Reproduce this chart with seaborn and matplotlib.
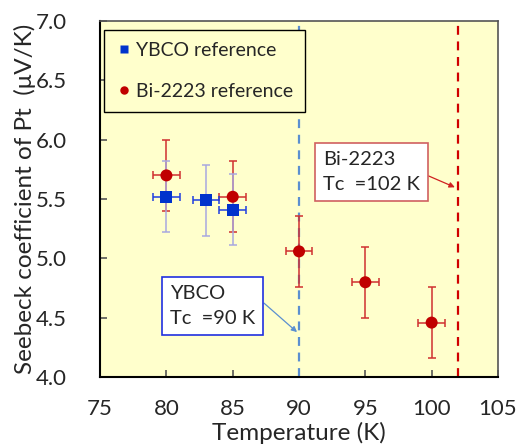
import numpy as np
import pandas as pd
import matplotlib
matplotlib.use("Agg")
import matplotlib.pyplot as plt
import seaborn as sns

# data
ybco_T = [80, 83, 85]
ybco_S = [5.52, 5.49, 5.41]
ybco_Terr = [1.0, 1.0, 1.0]
ybco_Serr = [0.30, 0.30, 0.30]

bi_T = [80, 85, 90, 95, 100]
bi_S = [5.70, 5.52, 5.06, 4.80, 4.46]
bi_Terr = [1.0, 1.0, 1.0, 1.0, 1.0]
bi_Serr = [0.30, 0.30, 0.30, 0.30, 0.30]

tc_ybco = 90
tc_bi = 102

sns.set_style("ticks")
plt.rcParams['font.family'] = ['Lato', 'DejaVu Sans']

df = pd.concat([
    pd.DataFrame({'T': ybco_T, 'S': ybco_S, 'sample': 'YBCO reference'}),
    pd.DataFrame({'T': bi_T, 'S': bi_S, 'sample': 'Bi-2223 reference'}),
])

fig = plt.figure(figsize=(5.16, 4.48), dpi=100)
ax = fig.add_axes([0.194, 0.158, 0.771, 0.795])
ax.set_facecolor('#FFFFCC')

blue = '#0033CC'
red = '#C00000'

# Tc lines
ax.axvline(tc_ybco, color='#5B8FD0', ls=(0, (4, 3)), lw=1.6, zorder=1)
ax.axvline(tc_bi, color='#D00000', ls=(0, (4, 3)), lw=1.6, zorder=1)

# error bars
ax.errorbar(bi_T, bi_S, yerr=bi_Serr, fmt='none', ecolor='#D03030', elinewidth=1.1,
            capsize=3, capthick=1.1, zorder=2)
ax.errorbar(bi_T, bi_S, xerr=bi_Terr, fmt='none', ecolor='#D03030', elinewidth=1.1,
            capsize=3, capthick=1.1, zorder=2)
ax.errorbar(ybco_T, ybco_S, yerr=ybco_Serr, fmt='none', ecolor='#A8A8E0', elinewidth=1.1,
            capsize=3, capthick=1.1, zorder=2)
ax.errorbar(ybco_T, ybco_S, xerr=ybco_Terr, fmt='none', ecolor='#1F3FE0', elinewidth=1.1,
            capsize=3, capthick=1.1, zorder=2)

sns.scatterplot(data=df, x='T', y='S', hue='sample', style='sample',
                palette={'YBCO reference': blue, 'Bi-2223 reference': red},
                markers={'YBCO reference': 's', 'Bi-2223 reference': 'o'},
                s=75, edgecolor='none', ax=ax, zorder=3)

ax.set_xlim(75, 105)
ax.set_ylim(4.0, 7.0)
ax.set_xticks(np.arange(75, 106, 5))
ax.set_yticks(np.arange(4.0, 7.01, 0.5))
ax.set_yticklabels([f'{v:.1f}' for v in np.arange(4.0, 7.01, 0.5)])
ax.tick_params(direction='in', labelsize=16, length=5, width=1.2, color='#555555')
ax.tick_params(axis='x', pad=16)
ax.tick_params(axis='y', pad=24)
ax.set_xlabel('Temperature (K)', fontsize=17.5, labelpad=2)
ax.set_ylabel('Seebeck coefficient of Pt  (μV/K)', fontsize=17.5, labelpad=0)

for side in ['left', 'bottom']:
    ax.spines[side].set_color('black')
    ax.spines[side].set_linewidth(1.5)
for side in ['top', 'right']:
    ax.spines[side].set_color('#555555')
    ax.spines[side].set_linewidth(1.2)

leg = ax.legend(loc='upper left', fontsize=14, frameon=True, fancybox=False,
                edgecolor='black', facecolor='#FFFFCC', framealpha=1,
                handletextpad=0.15, borderpad=0.6, labelspacing=1.25,
                markerscale=0.7, bbox_to_anchor=(0.01, 0.975), borderaxespad=0,
                handlelength=0.9)
leg.get_frame().set_linewidth(1.0)

ax.annotate('YBCO\nTc  =90 K', xy=(89.85, 4.38), xytext=(83.5, 4.60),
            fontsize=14.5, ha='center', va='center', multialignment='left',
            linespacing=1.55,
            bbox=dict(boxstyle='square,pad=0.4', fc='white', ec='#2030E0', lw=1.2),
            arrowprops=dict(arrowstyle='-|>', color='#5B8FD0', lw=0.9, mutation_scale=8,
                            shrinkA=0, shrinkB=0, relpos=(1, 0.75)),
            zorder=4)
ax.annotate('Bi-2223\nTc  =102 K', xy=(101.75, 5.60), xytext=(95.46, 5.727),
            fontsize=14.5, ha='center', va='center', multialignment='left',
            linespacing=1.55,
            bbox=dict(boxstyle='square,pad=0.4', fc='white', ec='#D06060', lw=1.2),
            arrowprops=dict(arrowstyle='-|>', color='#D02020', lw=0.9, mutation_scale=8,
                            shrinkA=0, shrinkB=0, relpos=(1, 0.5)),
            zorder=4)

fig.savefig('out.png', dpi=100)
